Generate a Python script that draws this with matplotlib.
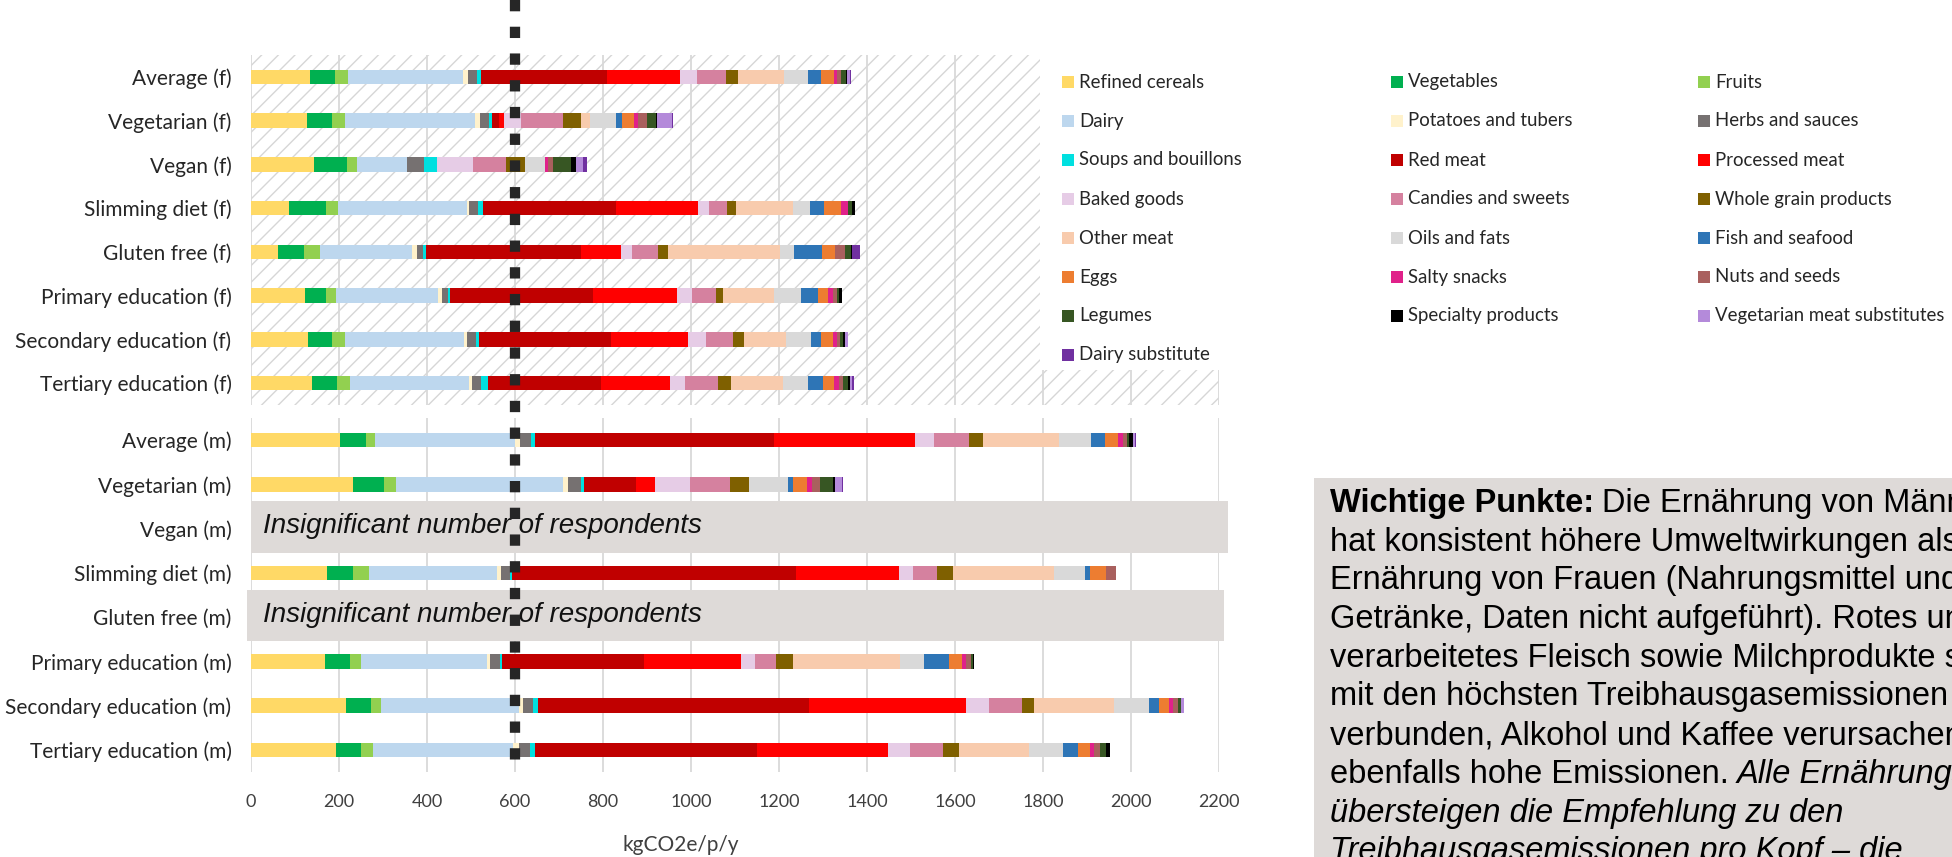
import numpy as np
import matplotlib.pyplot as plt
from matplotlib.patches import Rectangle
from matplotlib.lines import Line2D
from matplotlib.transforms import blended_transform_factory

plt.rcParams['font.family'] = ['Lato', 'DejaVu Sans']
plt.rcParams['hatch.linewidth'] = 1.0

categories = ["Refined cereals", "Vegetables", "Fruits", "Dairy", "Potatoes and tubers",
              "Herbs and sauces", "Soups and bouillons", "Red meat", "Processed meat",
              "Baked goods", "Candies and sweets", "Whole grain products", "Other meat",
              "Oils and fats", "Fish and seafood", "Eggs", "Salty snacks", "Nuts and seeds",
              "Legumes", "Specialty products", "Vegetarian meat substitutes", "Dairy substitute"]
colors = ["#FFD966", "#00B050", "#92D050", "#BDD7EE", "#FFF2CC", "#767171", "#00E0E0",
          "#C00000", "#FF0000", "#E6CCE6", "#D5819F", "#7F6000", "#F8CBAD", "#D9D9D9",
          "#2E75B6", "#ED7D31", "#E0218A", "#A9605E", "#375623", "#000000", "#B48ADA",
          "#7030A0"]

rows_f = ["Average (f)", "Vegetarian (f)", "Vegan (f)", "Slimming diet (f)", "Gluten free (f)",
          "Primary education (f)", "Secondary education (f)", "Tertiary education (f)"]
rows_m = ["Average (m)", "Vegetarian (m)", "Vegan (m)", "Slimming diet (m)", "Gluten free (m)",
          "Primary education (m)", "Secondary education (m)", "Tertiary education (m)"]

# kgCO2e/p/y per category, same order as `categories`
average_f = [134, 57, 29, 262, 11, 20, 10, 286, 166, 38, 66, 28, 104, 55, 29, 29, 7.5, 10.5, 10, 3.5, 6, 3]
vegetarian_f = [128, 57, 28, 297, 10, 22, 6, 15, 13, 38, 95, 40, 21, 60, 13, 28, 8, 21, 21, 2, 33, 4]
vegan_f = [143, 76, 23, 112, 0, 40, 28, 0, 0, 82, 76, 43, 0, 46, 0, 0, 7, 10, 41, 12, 15, 10]
slimming_f = [87, 83, 27, 294, 4, 22, 10, 303, 185, 26, 41, 21, 129, 38, 32, 40, 14, 0, 11, 6, 0, 0]
gluten_free_f = [62, 59, 36, 209, 12, 14, 6, 351, 92, 25, 58, 23, 255, 33, 63, 30, 0, 23, 12, 3, 0, 17]
primary_f = [122, 49, 23, 230, 11, 12, 6, 325, 190, 35, 53, 16, 117, 61, 38, 23, 11, 9, 6, 6, 0, 0]
secondary_f = [130, 55, 29, 270, 7, 20, 8, 300, 175, 39, 62, 25, 97, 56, 23, 26, 9, 8, 7, 5, 6, 0]
tertiary_f = [138, 57, 29, 272, 7, 20, 15, 258, 156, 34, 76, 28, 119, 56, 35, 26, 11, 9, 11, 4, 6, 3]

average_m = [203, 58, 21, 318, 12, 25, 9, 542, 321, 44, 78, 32, 173, 74, 32, 28, 11, 11, 4, 8, 4, 3]
vegetarian_m = [232, 70, 28, 378, 13, 29, 6, 118, 44, 79, 91, 43, 0, 89, 12, 32, 11, 19, 28, 5, 17, 2]
vegan_m = None  # insignificant number of respondents
slimming_m = [173, 58, 37, 291, 10, 20, 4, 645, 235, 31, 55, 37, 230, 69, 11, 37, 0, 23, 0, 0, 0, 0]
gluten_free_m = None  # insignificant number of respondents
primary_m = [168, 57, 24, 288, 7, 23, 4, 323, 219, 32, 49, 38, 244, 53, 57, 30, 10, 10, 6, 2, 0, 0]
secondary_m = [216, 57, 22, 315, 8, 24, 11, 615, 358, 51, 76, 27, 182, 78, 24, 23, 9, 11, 6, 0, 7, 0]
tertiary_m = [194, 57, 27, 318, 14, 25, 10, 506, 297, 49, 76, 35, 161, 77, 34, 26, 11, 13, 13, 10, 0, 0]

female = [average_f, vegetarian_f, vegan_f, slimming_f, gluten_free_f, primary_f, secondary_f, tertiary_f]
male = [average_m, vegetarian_m, vegan_m, slimming_m, gluten_free_m, primary_m, secondary_m, tertiary_m]

note_text = "Insignificant number of respondents"
xticks = list(range(0, 2201, 200))
limit_line = 600

W, H = 1952, 857


def fx(px):
    return px / W


def fy(py):
    return 1 - py / H


fig = plt.figure(figsize=(W / 100, H / 100), dpi=100)
ax_f = fig.add_axes([fx(251), fy(405), (1219 - 251) / W, (405 - 55) / H])
ax_m = fig.add_axes([fx(251), fy(772), (1219 - 251) / W, (772 - 418) / H])


def draw_rows(ax, labels, rows):
    vals = np.array([r if r is not None else [0] * len(categories) for r in rows], dtype=float)
    y = np.arange(len(labels))
    left = np.zeros(len(labels))
    for j, (cat, col) in enumerate(zip(categories, colors)):
        ax.barh(y, vals[:, j], left=left, height=0.33, color=col, linewidth=0, label=cat, zorder=3)
        left += vals[:, j]
    ax.set_ylim(len(labels) - 0.5, -0.5)
    ax.set_yticks(y, labels)
    ax.set_xlim(0, 2200)
    ax.set_xticks(xticks)
    ax.grid(axis='x', color='#d9d9d9', lw=1.3, zorder=1)
    ax.set_axisbelow(True)
    for s in ax.spines.values():
        s.set_visible(False)
    ax.tick_params(axis='y', length=0, pad=14, labelsize=15, labelcolor='#262626')
    ax.tick_params(axis='x', length=0, pad=16, labelsize=13, labelcolor='#404040')


draw_rows(ax_f, rows_f, female)
draw_rows(ax_m, rows_m, male)
ax_f.tick_params(axis='x', labelbottom=False)

# hatched plot area of the female chart
ax_f.patch.set_hatch('//')
ax_f.patch.set_edgecolor('#d6d6d6')
ax_f.patch.set_linewidth(0)

# grey boxes over the male rows without data
for i, r in enumerate(male):
    if r is None:
        ax_m.add_patch(Rectangle((-8 if i > 2 else 0, i - 0.62), 2220, 1.17, facecolor='#dedad8',
                                 edgecolor='none', clip_on=False, zorder=4))
        ax_m.text(28, i - 0.05, note_text, style='italic', fontsize=20, family='Liberation Sans',
                  va='center', ha='left', color='#111111', zorder=5)

fig.text(fx(681), fy(845), "kgCO2e/p/y", fontsize=15, ha='center', va='center', color='#404040')

# dashed recommendation line across both panels
trans = blended_transform_factory(ax_m.transData, fig.transFigure)
fig.add_artist(Line2D([limit_line, limit_line], [1.0, fy(766)], transform=trans, color='#262626',
                      lw=7.4, linestyle=(0, (1.1, 1.5)), solid_capstyle='butt',
                      dash_capstyle='butt', zorder=6))

# legend (Excel style, row-major, equal columns)
fig.add_artist(Rectangle((fx(1040), fy(370)), (W - 1040) / W, (370 - 55) / H,
                         transform=fig.transFigure, facecolor='white', edgecolor='none', zorder=2))
col_x = [1062, 1391, 1698]
for k, (cat, col) in enumerate(zip(categories, colors)):
    r, c = divmod(k, 3)
    yc = 82 + 39 * r
    fig.add_artist(Rectangle((fx(col_x[c]), fy(yc + 6)), 12 / W, 12 / H, transform=fig.transFigure,
                             facecolor=col, edgecolor='none', zorder=3))
    fig.text(fx(col_x[c] + 17), fy(yc), cat, fontsize=13.4, va='center', ha='left',
             color='#262626', zorder=3)

# key points box
fig.add_artist(Rectangle((fx(1314), 0), (W - 1314) / W, fy(478), transform=fig.transFigure,
                         facecolor='#dedad8', edgecolor='none', zorder=2))
box_font = dict(family='Liberation Sans', fontsize=23.5, color='black', zorder=3)
lines = [
    [("Wichtige Punkte:", 'normal', 'bold'), ("Die Ernährung von Männern", 'normal', 'normal')],
    [("hat konsistent höhere Umweltwirkungen als die", 'normal', 'normal')],
    [("Ernährung von Frauen (Nahrungsmittel und", 'normal', 'normal')],
    [("Getränke, Daten nicht aufgeführt). Rotes und", 'normal', 'normal')],
    [("verarbeitetes Fleisch sowie Milchprodukte sind", 'normal', 'normal')],
    [("mit den höchsten Treibhausgasemissionen", 'normal', 'normal')],
    [("verbunden, Alkohol und Kaffee verursachen", 'normal', 'normal')],
    [("ebenfalls hohe Emissionen.", 'normal', 'normal'), ("Alle Ernährungsweisen", 'italic', 'normal')],
    [("übersteigen die Empfehlung zu den", 'italic', 'normal')],
    [("Treibhausgasemissionen pro Kopf – die", 'italic', 'normal')],
]
renderer = fig.canvas.get_renderer()
for i, parts in enumerate(lines):
    yb = 512 + 38.7 * i
    x = 1330
    for txt, st, wt in parts:
        t = fig.text(fx(x), fy(yb), txt, style=st, weight=wt, va='baseline', ha='left', **box_font)
        x = t.get_window_extent(renderer).x1 + 8

fig.savefig("out.png", dpi=100)
